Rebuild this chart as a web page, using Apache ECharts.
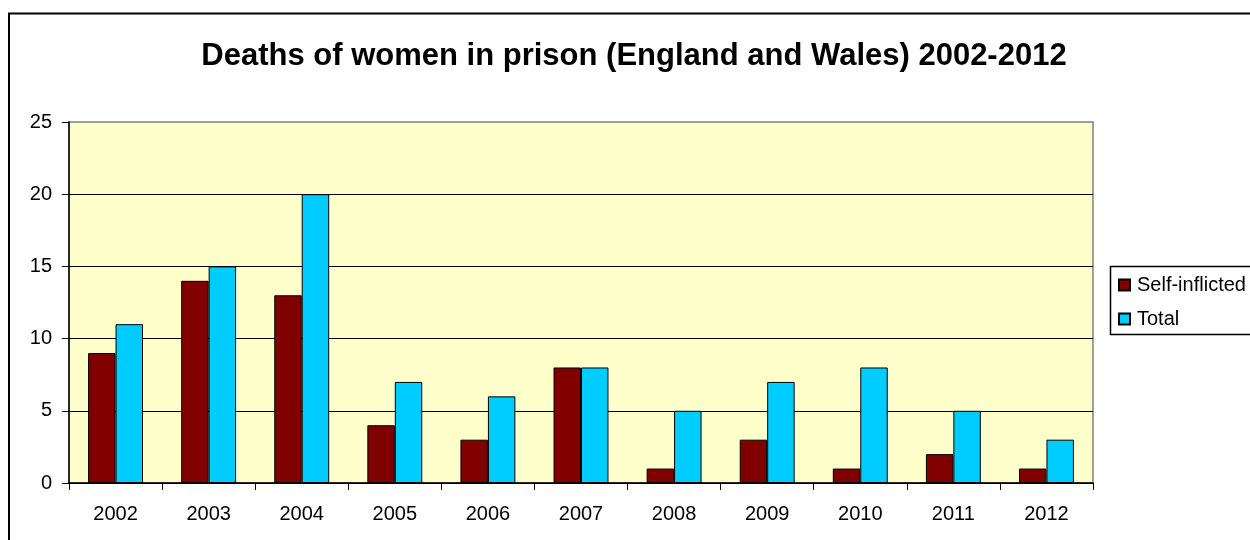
<!DOCTYPE html>
<html>
<head>
<meta charset="utf-8">
<script src="https://cdn.jsdelivr.net/npm/echarts@6/dist/echarts.min.js"></script>
<style>
  html, body { margin: 0; padding: 0; background: #fff; }
  #chart { width: 1250px; height: 540px; }
</style>
</head>
<body>
<div id="chart"></div>
<script>
// 数据
const years = ['2002', '2003', '2004', '2005', '2006', '2007', '2008', '2009', '2010', '2011', '2012']
const selfInflicted = [9, 14, 13, 4, 3, 8, 1, 3, 1, 2, 1]
const total = [11, 15, 20, 7, 6, 8, 5, 7, 8, 5, 3]
const yTicks = [0, 5, 10, 15, 20, 25]

const font = "'Liberation Sans', Arial, sans-serif"

let option = {
    animation: false,
    backgroundColor: '#ffffff',
    title: {
        text: 'Deaths of women in prison (England and Wales) 2002-2012',
        left: 634,
        top: 41,
        textAlign: 'center',
        padding: 0,
        textStyle: {
            fontFamily: font,
            fontSize: 31,
            fontWeight: 'bold',
            color: '#000'
        }
    },
    legend: {
        orient: 'vertical',
        left: 1118,
        top: 275,
        padding: 0,
        itemWidth: 11,
        itemHeight: 11,
        itemGap: 14,
        icon: 'rect',
        data: ['Self-inflicted', 'Total'],
        textStyle: {
            fontFamily: font,
            fontSize: 20,
            lineHeight: 20,
            color: '#000',
            padding: [0, 0, 0, 2]
        }
    },
    graphic: [
        // 外框
        {
            type: 'rect',
            shape: { x: 9, y: 13.5, width: 1300, height: 600 },
            style: { fill: 'none', stroke: '#000', lineWidth: 2 }
        },
        // 图例框
        {
            type: 'rect',
            shape: { x: 1110.5, y: 266.5, width: 200, height: 68 },
            style: { fill: 'none', stroke: '#000', lineWidth: 1.5 }
        }
    ],
    grid: {
        left: 69,
        top: 122,
        right: 157,
        bottom: 57,
        show: true,
        backgroundColor: '#ffffcc',
        borderColor: '#808080',
        borderWidth: 1.5,
        containLabel: false,
        outerBoundsMode: 'none'
    },
    xAxis: {
        type: 'category',
        data: years,
        axisLine: { lineStyle: { color: '#000', width: 1.5 } },
        axisTick: { show: true, length: 7, lineStyle: { color: '#000' } },
        axisLabel: {
            margin: 21,
            fontFamily: font,
            fontSize: 20,
            color: '#000'
        }
    },
    yAxis: {
        type: 'value',
        min: yTicks[0],
        max: yTicks[yTicks.length - 1],
        interval: 5,
        axisLine: { show: true, lineStyle: { color: '#000', width: 1.5 } },
        axisTick: { show: true, length: 7, lineStyle: { color: '#000' } },
        splitLine: { show: true, showMaxLine: false, lineStyle: { color: '#000', width: 1 } },
        axisLabel: {
            margin: 17,
            fontFamily: font,
            fontSize: 20,
            color: '#000'
        }
    },
    series: [
        {
            name: 'Self-inflicted',
            type: 'bar',
            data: selfInflicted,
            barGap: '0%',
            barCategoryGap: '41%',
            itemStyle: { color: '#800000', borderColor: '#000', borderWidth: 1 }
        },
        {
            name: 'Total',
            type: 'bar',
            data: total,
            itemStyle: { color: '#00ccff', borderColor: '#000', borderWidth: 1 }
        }
    ]
}

let chartDom = echarts.init(document.querySelector('#chart'))
chartDom.setOption(option)
</script>
</body>
</html>
